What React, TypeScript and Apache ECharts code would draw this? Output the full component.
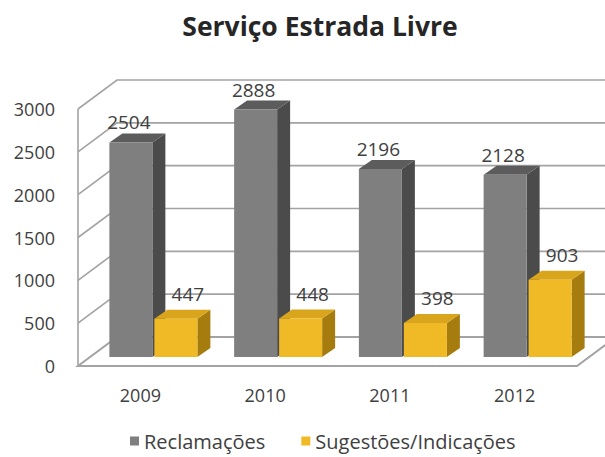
import React, { useEffect, useRef } from "react";
import * as echarts from "echarts";

const title = "Serviço Estrada Livre";
const categories = ["2009", "2010", "2011", "2012"];
const seriesNames = ["Reclamações", "Sugestões/Indicações"];
const reclamacoes = [2504, 2888, 2196, 2128];
const sugestoes = [447, 448, 398, 903];
const yTicks = [0, 500, 1000, 1500, 2000, 2500, 3000];

const FONT = "'Open Sans', 'DejaVu Sans', sans-serif";
const TEXT = "#404040";
const GRID_LINE = "#a3a3a3";
// wall depth (front plane -> back wall)
const WX = 39;
const WY = -29;
// bar placement
const BAR_W = 43;
const BAR_BASE_DY = -9;
const BAR_DX = 13;
const BAR_DY = -9;

type BarCfg = {
  front: string;
  side: string;
  top: string;
  offset: number;
  labelDx: number;
  labelDy: number;
};

function barSeries(name: string, values: number[], cfg: BarCfg) {
  return {
    type: "custom",
    name,
    data: values.map((v, i) => [i, v]),
    encode: { x: 0, y: 1 },
    clip: false,
    z: 3,
    itemStyle: { color: cfg.front },
    renderItem: (_p: any, api: any) => {
      const i = api.value(0);
      const v = api.value(1);
      const base = api.coord([i, 0]);
      const topPt = api.coord([i, v]);
      const x0 = base[0] + cfg.offset;
      const x1 = x0 + BAR_W;
      const yb = base[1] + BAR_BASE_DY;
      const yt = topPt[1] + BAR_BASE_DY;
      return {
        type: "group",
        children: [
          {
            type: "polygon",
            shape: {
              points: [
                [x1, yt],
                [x1 + BAR_DX, yt + BAR_DY],
                [x1 + BAR_DX, yb + BAR_DY],
                [x1, yb],
              ],
            },
            style: { fill: cfg.side },
          },
          {
            type: "polygon",
            shape: {
              points: [
                [x0, yt],
                [x1, yt],
                [x1 + BAR_DX, yt + BAR_DY],
                [x0 + BAR_DX, yt + BAR_DY],
              ],
            },
            style: { fill: cfg.top },
          },
          {
            type: "rect",
            shape: { x: x0, y: yt, width: BAR_W, height: yb - yt },
            style: { fill: cfg.front },
          },
          {
            type: "text",
            x: (x0 + x1) / 2 + cfg.labelDx,
            y: yt + cfg.labelDy,
            style: {
              text: String(v),
              fill: TEXT,
              fontSize: 19,
              fontFamily: FONT,
              align: "center",
              verticalAlign: "middle",
            },
          },
        ],
      };
    },
  };
}

export default function App() {
  const ref = useRef<HTMLDivElement>(null);
  useEffect(() => {
    if (!ref.current) return;
    const chart = echarts.init(ref.current, undefined, { renderer: "svg" });
    const lineStyle = { stroke: GRID_LINE, lineWidth: 1.6, fill: "none" };
    chart.setOption({
      animation: false,
      backgroundColor: "#ffffff",
      title: {
        text: title,
        left: 315,
        top: 7,
        textAlign: "center",
        textStyle: {
          fontFamily: FONT,
          fontWeight: "bold",
          fontSize: 26.5,
          color: "#262626",
        },
      },
      legend: {
        data: seriesNames,
        left: 130,
        top: 431,
        padding: 0,
        icon: "rect",
        itemWidth: 9,
        itemHeight: 9,
        itemGap: 36,
        textStyle: { fontFamily: FONT, fontSize: 20, color: TEXT },
      },
      grid: { left: 78, right: 28, top: 109, bottom: 91, containLabel: false },
      xAxis: {
        type: "category",
        data: categories,
        axisLine: { show: false },
        axisTick: { show: false },
        splitLine: { show: false },
        axisLabel: { margin: 20, fontSize: 18, fontFamily: FONT, color: TEXT },
      },
      yAxis: {
        type: "value",
        min: yTicks[0],
        max: yTicks[yTicks.length - 1],
        interval: 500,
        axisLine: { show: false },
        axisTick: { show: false },
        splitLine: { show: false },
        axisLabel: {
          margin: 23,
          fontSize: 18,
          fontFamily: FONT,
          color: TEXT,
          formatter: (v: number) => String(v),
        },
      },
      series: [
        {
          type: "custom",
          name: "walls",
          data: [[0, 0]],
          encode: { x: 0, y: 1 },
          clip: false,
          z: 1,
          silent: true,
          renderItem: (_p: any, api: any) => {
            const bw = api.size([1, 0])[0];
            const leftX = api.coord([0, 0])[0] - bw / 2;
            const rightX = api.coord([categories.length - 1, 0])[0] + bw / 2;
            const y = (v: number) => api.coord([0, v])[1];
            const y0 = y(0);
            const children: any[] = [];
            yTicks.forEach((v) => {
              if (v === 0) return;
              children.push({
                type: "polyline",
                shape: {
                  points: [
                    [leftX, y(v)],
                    [leftX + WX, y(v) + WY],
                    [rightX + WX + 20, y(v) + WY],
                  ],
                },
                style: lineStyle,
              });
            });
            children.push({
              type: "line",
              shape: { x1: leftX, y1: y0, x2: leftX, y2: y(yTicks[yTicks.length - 1]) },
              style: lineStyle,
            });
            children.push({
              type: "polygon",
              shape: {
                points: [
                  [leftX, y0],
                  [rightX, y0],
                  [rightX + WX, y0 + WY],
                  [leftX + WX, y0 + WY],
                ],
              },
              style: { fill: "#ffffff", stroke: GRID_LINE, lineWidth: 2 },
            });
            return { type: "group", children };
          },
        },
        barSeries(seriesNames[0], reclamacoes, {
          front: "#7f7f7f",
          side: "#4b4b4b",
          top: "#5c5c5c",
          offset: -31,
          labelDx: -2,
          labelDy: -20,
        }),
        barSeries(seriesNames[1], sugestoes, {
          front: "#efba26",
          side: "#a67c0f",
          top: "#d9a51c",
          offset: 14,
          labelDx: 12,
          labelDy: -25,
        }),
      ],
    });
    return () => chart.dispose();
  }, []);
  return (
    <div
      ref={ref}
      style={{ position: "fixed", left: 0, top: 0, width: 605, height: 457 }}
    />
  );
}
